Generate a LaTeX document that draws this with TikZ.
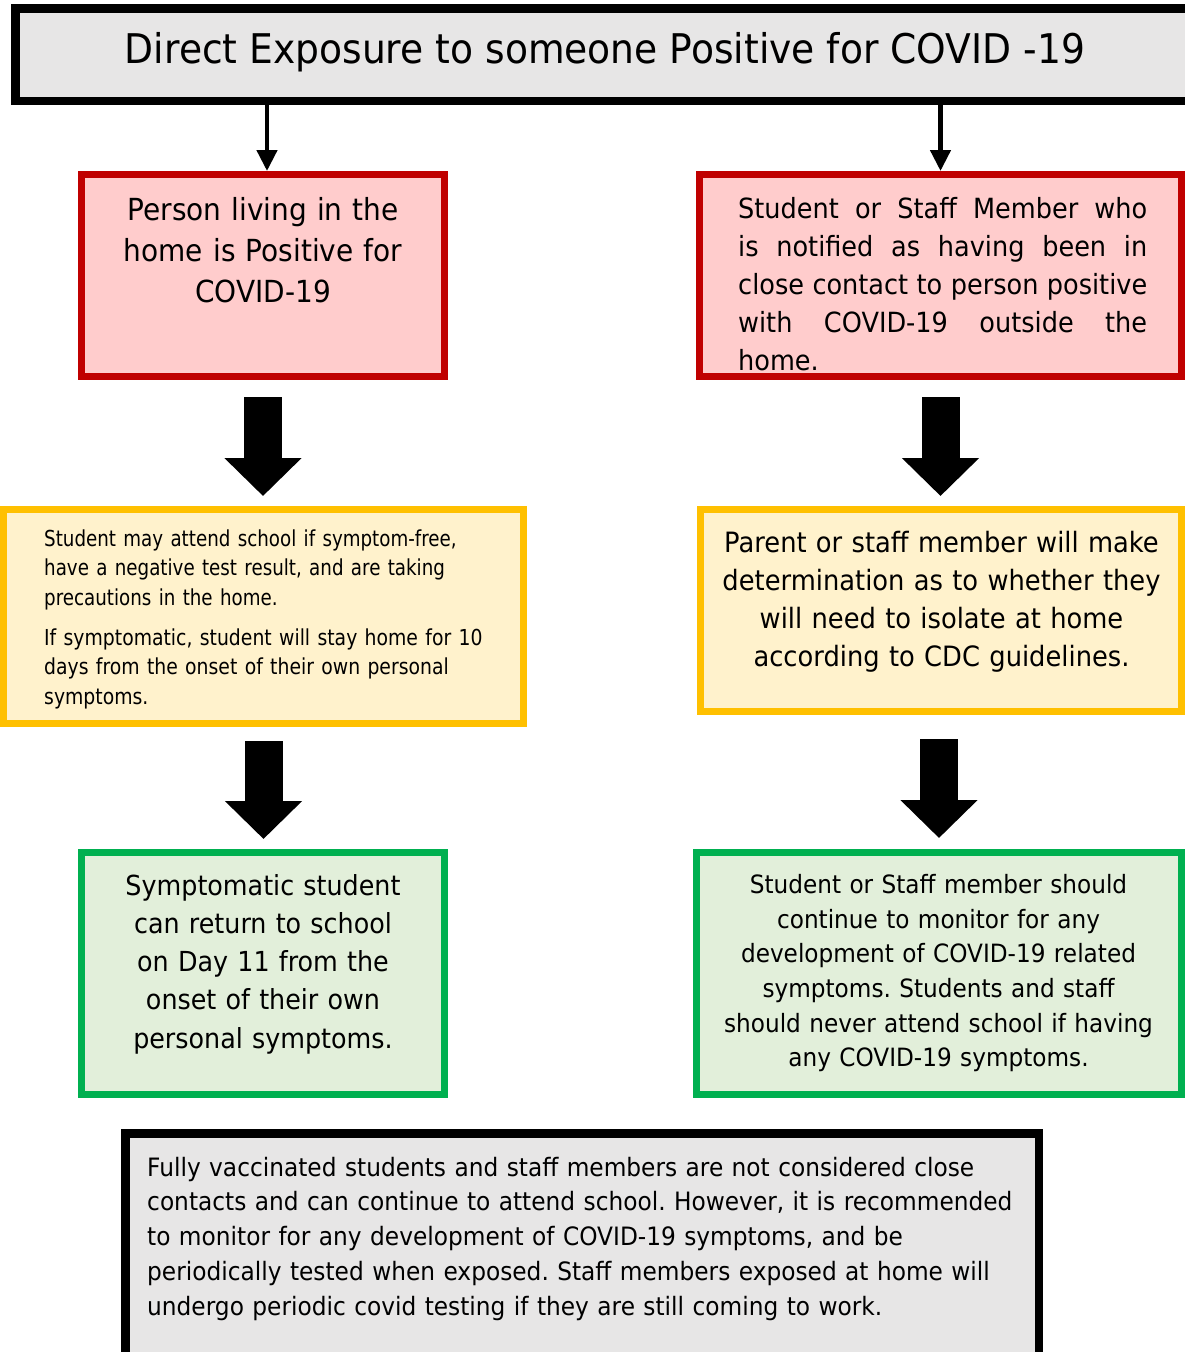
\documentclass[tikz,border=0pt]{standalone}
\usepackage{fontspec}
\setmainfont{DejaVu Sans}[FakeStretch=0.92]
\newfontfamily\narrowfont{DejaVu Sans}[FakeStretch=0.83]
\newfontfamily\semifont{DejaVu Sans}[FakeStretch=0.855]
\usetikzlibrary{arrows.meta}
\definecolor{redline}{HTML}{C00000}
\definecolor{redfill}{HTML}{FFCCCC}
\definecolor{amberline}{HTML}{FFC000}
\definecolor{amberfill}{HTML}{FFF2CC}
\definecolor{greenline}{HTML}{00B050}
\definecolor{greenfill}{HTML}{E2EFDA}
\definecolor{greyfill}{HTML}{E7E6E6}
\newcommand{\fsz}[2]{\fontsize{#1pt}{#2pt}\selectfont}
\hyphenpenalty=10000
\frenchspacing

\begin{document}
\begin{tikzpicture}[x=1pt,y=-1pt,
    box/.style={rectangle,inner sep=0pt,outer sep=0pt,anchor=north west},
    greybox/.style={box,draw=black,fill=greyfill,line width=8.5pt},
    redbox/.style={box,draw=redline,fill=redfill,line width=7pt},
    amberbox/.style={box,draw=amberline,fill=amberfill,line width=7pt},
    greenbox/.style={box,draw=greenline,fill=greenfill,line width=7pt},
    txt/.style={inner sep=0pt,anchor=base},
    thinarrow/.style={-{Triangle[width=20pt,length=21pt]},line width=4.5pt},
    blockarrow/.style={-{Triangle[width=75pt,length=38pt]},line width=38pt}]
  \useasboundingbox (0,0) rectangle (1185,1352);
  \clip (0,0) rectangle (1185,1352);

  % Drawing box title
  \node [greybox,minimum width=1184.75pt,minimum height=92.5pt] (title) at (15.25,8.25) {};
  \node [txt,font=\fsz{40.9}{48}] (title-text) at (605,63) {Direct Exposure to someone Positive for COVID -19};

  % Drawing box red1
  \node [redbox,minimum width=363pt,minimum height=202pt] (red1) at (81.5,174.5) {};
  \node [txt,text width=350pt,align=center,font=\fsz{30.4}{41}] (red1-text) at (263,220)
    {Person living in the\\ home is Positive for\\ COVID-19};

  % Drawing box red2
  \node [redbox,minimum width=482pt,minimum height=202pt] (red2) at (699.5,174.5) {};
  \node [txt,anchor=base west,text width=409pt,align=justify,font=\fsz{27.8}{38}] (red2-text) at (738,218.3)
    {Student or Staff Member who\linebreak is notified as having been in\linebreak close contact to person positive\linebreak with COVID-19 outside the\linebreak home.};

  % Drawing box amber1
  \node [amberbox,minimum width=520pt,minimum height=214pt] (amber1) at (3.5,509.5) {};
  \node [txt,anchor=base west,text width=470pt,align=left,font=\fsz{22}{29.5}] (amber1-text) at (44,546)
    {\narrowfont Student may attend school if symptom-free,\\ have a negative test result, and are taking\\ precautions in the home.\\[10.5pt]
     \semifont If symptomatic, student will stay home for 10\\ days from the onset of their own personal\\ symptoms.};

  % Drawing box amber2
  \node [amberbox,minimum width=481pt,minimum height=202pt] (amber2) at (700.5,509.5) {};
  \node [txt,text width=460pt,align=center,font=\fsz{28}{38}] (amber2-text) at (941.5,552.7)
    {Parent or staff member will make\\ determination as to whether they\\ will need to isolate at home\\ according to CDC guidelines.};

  % Drawing box green1
  \node [greenbox,minimum width=363pt,minimum height=242pt] (green1) at (81.5,852.5) {};
  \node [txt,text width=350pt,align=center,font=\fsz{27.6}{38.3}] (green1-text) at (263,895)
    {Symptomatic student\\ can return to school\\ on Day 11 from the\\ onset of their own\\ personal symptoms.};

  % Drawing box green2
  \node [greenbox,minimum width=485pt,minimum height=242pt] (green2) at (696.5,852.5) {};
  \node [txt,text width=470pt,align=center,font=\fsz{25.2}{34.7}] (green2-text) at (938.5,893.3)
    {Student or Staff member should\\ continue to monitor for any\\ development of COVID-19 related\\ symptoms. Students and staff\\ should never attend school if having\\ any COVID-19 symptoms.};

  % Drawing box note
  \node [greybox,minimum width=913.5pt,minimum height=266.75pt] (note) at (125.25,1133.25) {};
  \node [txt,anchor=base west,text width=880pt,align=left,font=\fsz{25.3}{34.8}] (note-text) at (147,1176)
    {Fully vaccinated students and staff members are not considered close\\ contacts and can continue to attend school. However, it is recommended\\ to monitor for any development of COVID-19 symptoms, and be\\ periodically tested when exposed. Staff members exposed at home will\\ undergo periodic covid testing if they are still coming to work.};

  % Drawing arrows from title
  \draw [thinarrow,shorten >=3.5pt] ([xshift=4pt]red1.north |- title.south) -- ([xshift=4pt]red1.north);
  \draw [thinarrow,shorten >=3.5pt] (red2.north |- title.south) -- (red2.north);

  % Drawing block arrows
  \draw [blockarrow,shorten <=20.5pt,shorten >=13.5pt] (red1.south) -- (amber1.north -| red1.south);
  \draw [blockarrow,shorten <=20.5pt,shorten >=13.5pt] (red2.south) -- (amber2.north -| red2.south);
  \draw [blockarrow,shorten <=17.5pt,shorten >=13.5pt] (amber1.south) -- (green1.north -| amber1.south);
  \draw [blockarrow,shorten <=27.5pt,shorten >=14.5pt] (amber2.south -| green2.north) -- (green2.north);
\end{tikzpicture}
\end{document}
